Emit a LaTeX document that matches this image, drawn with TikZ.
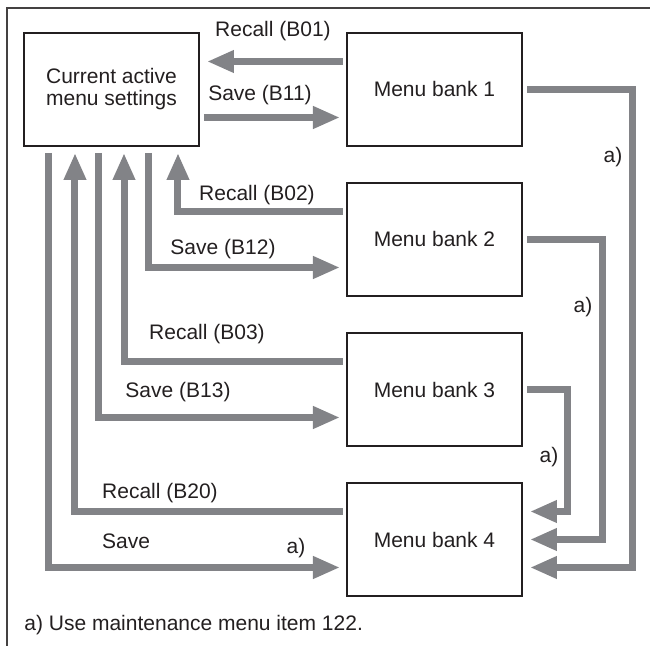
\documentclass[tikz,border=0pt]{standalone}
\usepackage{fontspec}
\setmainfont{Liberation Sans}
\usetikzlibrary{arrows.meta,positioning}
\definecolor{pipegray}{HTML}{828387}
\definecolor{inkgray}{HTML}{231F20}

\begin{document}
\begin{tikzpicture}[x=0.5pt, y=-0.5pt,
                    font=\fontsize{10.5}{11}\selectfont, text=inkgray,
                    bank/.style={draw=inkgray, line width=0.8pt, minimum width=87.5pt,
                                 minimum height=56.5pt, inner sep=0pt, outer sep=0pt, align=center},
                    pipe/.style={draw=pipegray, line width=3.5pt},
                    flow/.style={pipe, -{Triangle[length=13.5pt,width=10.5pt]}},
                    lbl/.style={inner sep=0pt}]
  \useasboundingbox (0,0) rectangle (650,646);
  \draw[draw=inkgray!85, line width=0.9pt] (7,646) |- (650,8);

  \node[bank] (cur) at (111.5,89.5) {Current active\\menu settings};
  \node[bank, right=74pt of cur] (b1) {Menu bank 1};
  \node[bank, below=18.5pt of b1] (b2) {Menu bank 2};
  \node[bank, below=18.5pt of b2] (b3) {Menu bank 3};
  \node[bank, below=18.5pt of b3] (b4) {Menu bank 4};

  \draw[flow] ([xshift=-2pt,yshift=14pt]b1.west) -- ([xshift=4pt,yshift=14pt]cur.east);
  \draw[flow] ([xshift=2.5pt,yshift=-14pt]cur.east) -- ([xshift=-3.5pt,yshift=-14pt]b1.west);
  \draw[flow] ([xshift=-2pt,yshift=14pt]b2.west) -| ([xshift=77pt,yshift=-3.5pt]cur.south west);
  \draw[flow] ([xshift=62.5pt,yshift=-3.5pt]cur.south west) |- ([xshift=-3.5pt,yshift=-14pt]b2.west);
  \draw[flow] ([xshift=-2pt,yshift=14pt]b3.west) -| ([xshift=50pt,yshift=-3.5pt]cur.south west);
  \draw[flow] ([xshift=37.5pt,yshift=-3.5pt]cur.south west) |- ([xshift=-3.5pt,yshift=-14pt]b3.west);
  \draw[flow] ([xshift=-2pt,yshift=14pt]b4.west) -| ([xshift=25.5pt,yshift=-3.5pt]cur.south west);
  \draw[flow] ([xshift=12.5pt,yshift=-3.5pt]cur.south west) |- ([xshift=-3.5pt,yshift=-14pt]b4.west);

  \coordinate (c1) at ([xshift=55.5pt]b1.east);
  \coordinate (c2) at ([xshift=40.5pt]b2.east);
  \coordinate (c3) at ([xshift=23pt]b3.east);
  \draw[flow] ([xshift=2.5pt]b1.east) -- (c1) |- ([xshift=4pt,yshift=-14pt]b4.east);
  \draw[flow] ([xshift=2.5pt]b2.east) -- (c2) |- ([xshift=4pt]b4.east);
  \draw[flow] ([xshift=2.5pt]b3.east) -- (c3) |- ([xshift=4pt,yshift=14pt]b4.east);

  \node[lbl] (r1) at (273,31) {Recall (B01)};
  \node[lbl] (s1) at (260,95) {Save (B11)};
  \node[lbl] (r2) at (257,195) {Recall (B02)};
  \node[lbl] (s2) at (223,249) {Save (B12)};
  \node[lbl] (r3) at (207,334) {Recall (B03)};
  \node[lbl] (s3) at (178,392) {Save (B13)};
  \node[lbl] (r4) at (160,493) {Recall (B20)};
  \node[lbl] (s4) at (126,541) {Save};
  \node[lbl] (a4) at (296,548) {a)};
  \node[lbl] (a1) at (613,157) {a)};
  \node[lbl] (a2) at (583,307) {a)};
  \node[lbl] (a3) at (549,457) {a)};
  \node[lbl, anchor=west] (note) at (24,625) {a) Use maintenance menu item 122.};
\end{tikzpicture}
\end{document}
